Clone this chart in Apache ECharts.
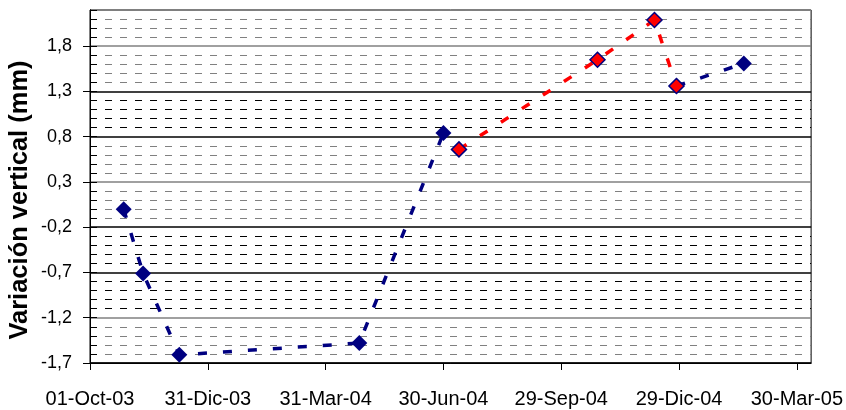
<!DOCTYPE html>
<html>
<head>
<meta charset="utf-8">
<script src="https://cdn.jsdelivr.net/npm/echarts@6/dist/echarts.min.js"></script>
<style>
html,body{margin:0;padding:0;background:#fff;}
#chart{width:846px;height:410px;}
</style>
</head>
<body>
<div id="chart"></div>
<script>
// ---- data ----
var axisStartDate = '2003-10-01';
var xTickLabels = ['01-Oct-03', '31-Dic-03', '31-Mar-04', '30-Jun-04', '29-Sep-04', '29-Dic-04', '30-Mar-05'];
var yTickLabels = ['-1,7', '-1,2', '-0,7', '-0,2', '0,3', '0,8', '1,3', '1,8'];
var yTitle = 'Variación vertical (mm)';

var blueDatesA = ['2003-10-27', '2003-11-11', '2003-12-09', '2004-04-26', '2004-06-30'];
var blueValuesA = [0.00, -0.71, -1.61, -1.48, 0.84];

var redDates = ['2004-07-12', '2004-10-27', '2004-12-10', '2004-12-27'];
var redValues = [0.66, 1.65, 2.09, 1.36];

var blueDatesB = ['2004-12-27', '2005-02-17'];
var blueValuesB = [1.36, 1.61];

// ---- helpers ----
function dayOffset(s) {
  var a = s.split('-'), b = axisStartDate.split('-');
  return Math.round((Date.UTC(+a[0], +a[1] - 1, +a[2]) - Date.UTC(+b[0], +b[1] - 1, +b[2])) / 86400000);
}
function pairs(dates, vals) {
  return dates.map(function (d, i) { return [dayOffset(d), vals[i]]; });
}
var xStep = 91;
var xTickValues = xTickLabels.map(function (_, i) { return i * xStep; });
var yMajorValues = yTickLabels.map(function (_, i) { return i * 0.5; });

var GRAY = '#808080', BLACK = '#000000', NONE = 'rgba(0,0,0,0)';
var minorColors = [];
(function () {
  var bands = [GRAY, BLACK, BLACK, GRAY, GRAY, BLACK, GRAY, GRAY];
  for (var i = 0; i <= 39; i++) {
    if (i % 5 === 0) minorColors.push(NONE);
    else minorColors.push(bands[Math.floor(i / 5)]);
  }
})();

var FONT = 'Arial, "Liberation Sans", Helvetica, sans-serif';
var NAVY = '#000080';

var chart = echarts.init(document.getElementById('chart'), null, {renderer: 'canvas'});
chart.setOption({
  animation: false,
  backgroundColor: '#ffffff',
  grid: {left: 90, right: 34, top: 10, bottom: 47, show: true, borderColor: '#000', borderWidth: 1, containLabel: false},
  graphic: [{
    type: 'text',
    x: 20,
    y: 200,
    rotation: Math.PI / 2,
    style: {
      text: yTitle,
      font: 'bold 25.5px ' + FONT,
      fill: '#000',
      align: 'center',
      verticalAlign: 'middle'
    }
  }],
  xAxis: {
    type: 'value',
    min: 0,
    max: 557,
    interval: xStep,
    axisLine: {show: true, onZero: false, lineStyle: {color: '#000', width: 1}},
    axisTick: {show: true, inside: false, length: 7, lineStyle: {color: '#000'}, customValues: xTickValues},
    axisLabel: {
      show: true, margin: 26, color: '#000', fontFamily: FONT, fontSize: 20,
      customValues: xTickValues,
      formatter: function (v) { return xTickLabels[Math.round(v / xStep)] || ''; }
    },
    splitLine: {show: false}
  },
  yAxis: [
    {
      type: 'value',
      min: -1.7,
      max: 2.2,
      interval: 0.1,
      position: 'left',
      axisLine: {show: true, onZero: false, lineStyle: {color: '#000', width: 1}},
      axisTick: {show: true, inside: true, length: 7, lineStyle: {color: '#000'}},
      axisLabel: {show: false},
      splitLine: {show: true, lineStyle: {color: minorColors, width: 1, type: [7, 8]}}
    },
    {
      type: 'value',
      min: 0,
      max: 3.9,
      interval: 0.5,
      position: 'left',
      offset: 0,
      axisLine: {show: true, onZero: false, lineStyle: {color: '#000', width: 1}},
      axisTick: {show: true, inside: false, length: 7, lineStyle: {color: '#000'}, customValues: yMajorValues},
      axisLabel: {
        show: true, margin: 18, color: '#000', fontFamily: FONT, fontSize: 18,
        customValues: yMajorValues,
        formatter: function (v) { return yTickLabels[Math.round(v / 0.5)] || ''; }
      },
      splitLine: {show: true, lineStyle: {color: [BLACK, GRAY, BLACK], width: 1.5, type: 'solid'}}
    }
  ],
  series: [
    {
      name: 'serie azul 1',
      type: 'line',
      yAxisIndex: 0,
      data: pairs(blueDatesA, blueValuesA),
      symbol: 'diamond',
      symbolSize: 16,
      itemStyle: {color: NAVY, borderColor: NAVY, borderWidth: 0},
      lineStyle: {color: NAVY, width: 3.5, type: [9, 16]},
      z: 3
    },
    {
      name: 'serie azul 2',
      type: 'line',
      yAxisIndex: 0,
      data: pairs(blueDatesB, blueValuesB),
      symbol: 'diamond',
      symbolSize: 16,
      itemStyle: {color: NAVY, borderColor: NAVY, borderWidth: 0},
      lineStyle: {color: NAVY, width: 3.5, type: [9, 16]},
      z: 3
    },
    {
      name: 'serie roja',
      type: 'line',
      yAxisIndex: 0,
      data: pairs(redDates, redValues),
      symbol: 'diamond',
      symbolSize: 15,
      itemStyle: {color: '#ff0000', borderColor: NAVY, borderWidth: 1.5},
      lineStyle: {color: '#ff0000', width: 3.5, type: [9, 16]},
      z: 4
    }
  ]
});
</script>
</body>
</html>
